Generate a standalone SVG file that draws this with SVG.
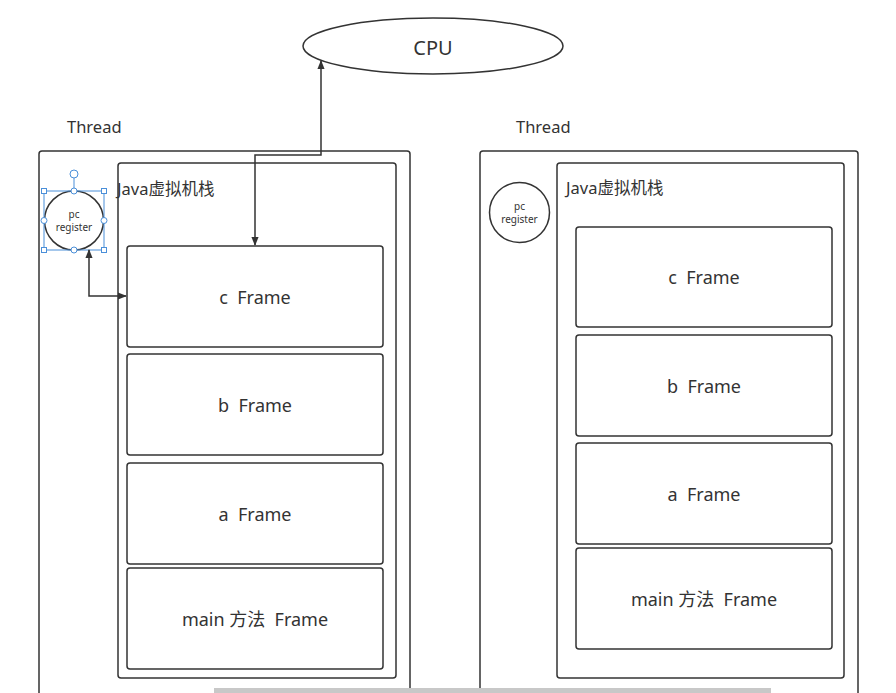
<svg xmlns="http://www.w3.org/2000/svg" width="896" height="693" viewBox="0 0 896 693">
<style>
text{font-family:"Noto Sans","Noto Sans CJK SC",sans-serif;fill:#333;white-space:pre}
.box{fill:#fff;stroke:#333;stroke-width:1.5}
.fr{font-size:18px;text-anchor:middle;dominant-baseline:central}
.lbl{font-size:16.5px}
.pc{font-size:10px;text-anchor:middle}
.con{fill:none;stroke:#333;stroke-width:1.5}
.sel{fill:none;stroke:#4a8fd9;stroke-width:1}
.h{fill:#fff;stroke:#4a8fd9;stroke-width:1}
</style>
<defs>
<marker id="ah" viewBox="0 0 10 10" refX="9" refY="5" markerWidth="9" markerHeight="9" markerUnits="userSpaceOnUse" orient="auto-start-reverse">
<path d="M0,1 L10,5 L0,9 Z" fill="#333"/>
</marker>
</defs>
<rect width="896" height="693" fill="#fff"/>
<g id="cpu">
<ellipse cx="433" cy="46" rx="130" ry="28" class="box"/>
<text x="433" y="47" font-size="20" text-anchor="middle" dominant-baseline="central">CPU</text>
</g>
<g id="thread-left">
<text x="67" y="133" class="lbl">Thread</text>
<rect x="39" y="151" width="371" height="560" rx="3" class="box"/>
</g>
<g id="stack-left">
<rect x="118" y="163" width="278" height="515" rx="3" class="box"/>
<text x="117" y="195" class="lbl">Java虚拟机栈</text>
</g>
<g id="pc-left">
<circle cx="74" cy="220.5" r="29.5" class="box"/>
<text x="74" y="218" class="pc">pc</text>
<text x="74" y="231" class="pc">register</text>
<rect x="44" y="191" width="60" height="59" class="sel"/>
<line x1="74" y1="174" x2="74" y2="191" class="sel"/>
<circle cx="74" cy="174" r="4" class="h"/>
<rect x="41.5" y="188.5" width="5" height="5" class="h"/>
<rect x="101.5" y="188.5" width="5" height="5" class="h"/>
<rect x="41.5" y="247.5" width="5" height="5" class="h"/>
<rect x="101.5" y="247.5" width="5" height="5" class="h"/>
<circle cx="74" cy="191" r="3" class="h"/>
<circle cx="74" cy="250" r="3" class="h"/>
<circle cx="44" cy="220.5" r="3" class="h"/>
<circle cx="104" cy="220.5" r="3" class="h"/>
</g>
<g id="frame-c-left"><rect x="127" y="246" width="256" height="101" rx="3" class="box"/><text x="255" y="297" class="fr">c  Frame</text></g>
<g id="frame-b-left"><rect x="127" y="354" width="256" height="101" rx="3" class="box"/><text x="255" y="405" class="fr">b  Frame</text></g>
<g id="frame-a-left"><rect x="127" y="463" width="256" height="101" rx="3" class="box"/><text x="255" y="514" class="fr">a  Frame</text></g>
<g id="frame-main-left"><rect x="127" y="568" width="256" height="101" rx="3" class="box"/><text x="255" y="619" class="fr">main 方法  Frame</text></g>
<g id="thread-right">
<text x="516" y="133" class="lbl">Thread</text>
<rect x="480" y="151" width="378" height="560" rx="3" class="box"/>
</g>
<g id="stack-right">
<rect x="557" y="163" width="287" height="515" rx="3" class="box"/>
<text x="566" y="194" class="lbl">Java虚拟机栈</text>
</g>
<g id="pc-right">
<circle cx="519.5" cy="212.5" r="30" class="box"/>
<text x="519.5" y="210" class="pc">pc</text>
<text x="519.5" y="223" class="pc">register</text>
</g>
<g id="frame-c-right"><rect x="576" y="227" width="256" height="100" rx="3" class="box"/><text x="704" y="277" class="fr">c  Frame</text></g>
<g id="frame-b-right"><rect x="576" y="335" width="256" height="101" rx="3" class="box"/><text x="704" y="386" class="fr">b  Frame</text></g>
<g id="frame-a-right"><rect x="576" y="443" width="256" height="101" rx="3" class="box"/><text x="704" y="494" class="fr">a  Frame</text></g>
<g id="frame-main-right"><rect x="576" y="548" width="256" height="101" rx="3" class="box"/><text x="704" y="599" class="fr">main 方法  Frame</text></g>
<g id="connectors">
<path d="M255,245 L255,155 L321,155 L321,61" class="con" marker-start="url(#ah)" marker-end="url(#ah)"/>
<path d="M89,250 L89,296 L126,296" class="con" marker-start="url(#ah)" marker-end="url(#ah)"/>
</g>
<rect x="214" y="688" width="557" height="6" fill="#c8c8c8"/>
</svg>
